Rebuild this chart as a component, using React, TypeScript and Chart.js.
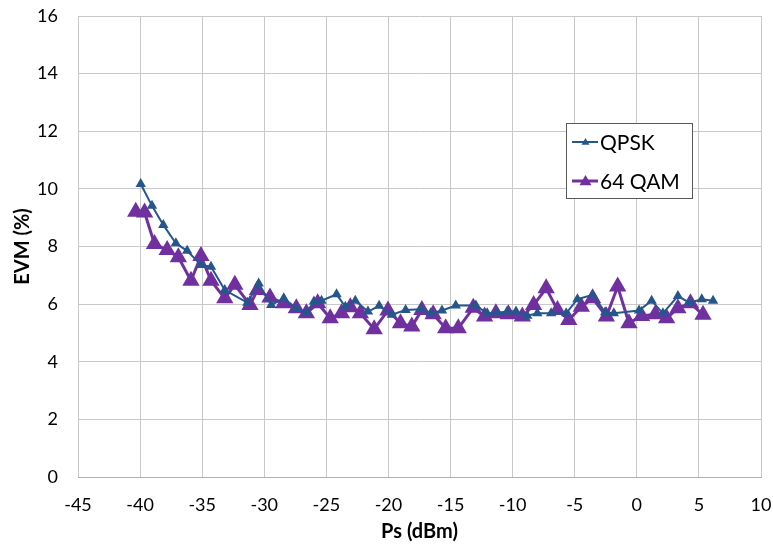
import React, { useEffect, useRef } from "react";
import { Chart, registerables } from "chart.js";

Chart.register(...registerables);

const qpskX = [-39.95, -39.04, -38.13, -37.12, -36.21, -35.1, -34.29, -33.18, -31.36, -30.45, -29.44, -28.43, -27.42, -26.61, -26.0, -25.39, -24.18, -23.47, -22.67, -21.65, -20.75, -19.73, -18.62, -17.41, -16.6, -15.69, -14.58, -12.96, -12.05, -11.25, -10.44, -9.73, -8.82, -8.01, -6.9, -5.69, -4.78, -3.56, -2.55, -1.85, 0.18, 1.19, 2.1, 3.31, 4.22, 5.23, 6.14];
const qpskY = [10.17, 9.41, 8.75, 8.11, 7.85, 7.36, 7.3, 6.49, 6.05, 6.72, 5.97, 6.2, 5.86, 5.7, 6.09, 6.12, 6.34, 5.91, 6.12, 5.74, 5.94, 5.63, 5.8, 5.82, 5.68, 5.78, 5.95, 5.95, 5.68, 5.7, 5.74, 5.74, 5.6, 5.68, 5.68, 5.68, 6.17, 6.32, 5.72, 5.68, 5.78, 6.12, 5.68, 6.28, 6.05, 6.17, 6.12];

const qamX = [-40.35, -39.64, -38.84, -37.82, -36.92, -35.9, -35.1, -34.29, -33.18, -32.37, -31.15, -30.55, -29.54, -28.43, -27.42, -26.61, -25.7, -24.69, -23.78, -23.07, -22.26, -21.15, -20.04, -19.03, -18.12, -17.31, -16.4, -15.39, -14.38, -13.17, -12.26, -11.35, -10.34, -9.22, -8.31, -7.3, -6.39, -5.48, -4.47, -3.56, -2.45, -1.54, -0.63, 0.38, 1.49, 2.4, 3.31, 4.32, 5.33];
const qamY = [9.21, 9.18, 8.09, 7.88, 7.63, 6.81, 7.67, 6.81, 6.2, 6.67, 5.97, 6.49, 6.23, 6.03, 5.86, 5.68, 6.03, 5.51, 5.68, 5.89, 5.68, 5.13, 5.78, 5.34, 5.22, 5.8, 5.65, 5.16, 5.16, 5.87, 5.57, 5.68, 5.65, 5.57, 5.97, 6.55, 5.8, 5.45, 5.91, 6.2, 5.57, 6.61, 5.34, 5.59, 5.65, 5.51, 5.86, 6.03, 5.63];

const seriesNames = ["QPSK", "64 QAM"];
const seriesColors = ["#25568C", "#7030A0"];

const FONT = "Lato, 'Open Sans', sans-serif";

const legendPlugin = {
  id: "boxLegend",
  afterDraw(chart: any) {
    const ctx = chart.ctx;
    ctx.save();
    ctx.fillStyle = "#ffffff";
    ctx.fillRect(566, 123, 126, 75);
    ctx.strokeStyle = "#595959";
    ctx.lineWidth = 1;
    ctx.strokeRect(566.5, 123.5, 126, 75);
    const rows = [142, 181];
    const sizes = [4, 6];
    const widths = [2, 3];
    rows.forEach((y, i) => {
      ctx.strokeStyle = seriesColors[i];
      ctx.lineWidth = widths[i];
      ctx.beginPath();
      ctx.moveTo(572, y);
      ctx.lineTo(598, y);
      ctx.stroke();
      const r = sizes[i];
      ctx.fillStyle = seriesColors[i];
      ctx.beginPath();
      ctx.moveTo(585.5, y - r);
      ctx.lineTo(585.5 + r, y + r * 0.7);
      ctx.lineTo(585.5 - r, y + r * 0.7);
      ctx.closePath();
      ctx.fill();
      ctx.fillStyle = "#000";
      ctx.font = `21px ${FONT}`;
      ctx.textBaseline = "middle";
      ctx.textAlign = "left";
      ctx.fillText(seriesNames[i], 600, y + 1);
    });
    ctx.restore();
  },
};

export default function App() {
  const ref = useRef<HTMLCanvasElement>(null);
  useEffect(() => {
    document.body.style.margin = "0";
    const chart = new Chart(ref.current!, {
      type: "line",
      data: {
        datasets: [
          {
            label: seriesNames[0],
            data: qpskX.map((x, i) => ({ x, y: qpskY[i] })),
            borderColor: seriesColors[0],
            backgroundColor: seriesColors[0],
            borderWidth: 2,
            pointStyle: "triangle",
            pointRadius: 4,
            tension: 0,
          },
          {
            label: seriesNames[1],
            data: qamX.map((x, i) => ({ x, y: qamY[i] })),
            borderColor: seriesColors[1],
            backgroundColor: seriesColors[1],
            borderWidth: 3,
            pointStyle: "triangle",
            pointRadius: 7,
            tension: 0,
          },
        ],
      },
      options: {
        animation: false,
        responsive: false,
        layout: { padding: { top: 16, right: 12, left: 0, bottom: 0 } },
        plugins: { legend: { display: false }, tooltip: { enabled: false } },
        scales: {
          x: {
            type: "linear",
            min: -45,
            max: 10,
            ticks: { stepSize: 5, color: "#000", font: { family: FONT, size: 18 }, padding: 17 },
            grid: { color: "#c8c8c8", drawTicks: false },
            border: { color: "#b0b0b0" },
            title: { display: true, text: "Ps (dBm)", color: "#000", font: { family: FONT, size: 20, weight: "bold" }, padding: { top: 0, bottom: 3 } },
            afterFit(s: any) {
              s.height = 70;
              s.paddingRight = 0;
              s.paddingLeft = 0;
            },
          },
          y: {
            min: 0,
            max: 16,
            ticks: { stepSize: 2, color: "#000", font: { family: FONT, size: 18 }, padding: 20 },
            grid: { color: "#c8c8c8", drawTicks: false },
            border: { display: false },
            title: { display: true, text: "EVM (%)", color: "#000", font: { family: FONT, size: 20, weight: "bold" }, padding: { top: 11, bottom: 0 } },
            afterFit(s: any) {
              s.width = 78;
              s.paddingTop = 0;
              s.paddingBottom = 0;
            },
          },
        },
      } as any,
      plugins: [legendPlugin],
    });
    return () => chart.destroy();
  }, []);
  return (
    <div style={{ position: "absolute", left: 0, top: 0, width: 773, height: 547 }}>
      <canvas ref={ref} width={773} height={547} />
    </div>
  );
}
